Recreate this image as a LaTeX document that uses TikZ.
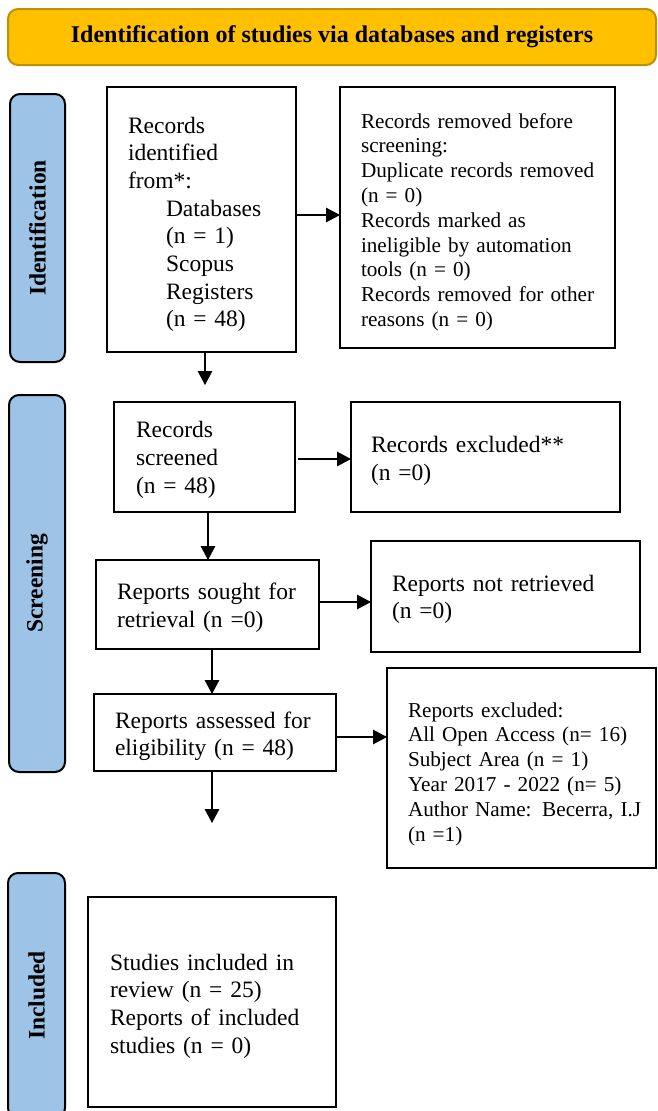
\documentclass[tikz,border=0pt]{standalone}
\usepackage{fontspec}
\setmainfont{Liberation Serif}
\usetikzlibrary{arrows.meta,calc}
\definecolor{bannerfill}{HTML}{FFC000}
\definecolor{bannerline}{HTML}{BF9000}
\definecolor{sidefill}{HTML}{9DC3E6}
\newcommand\mytopstrut[1]{\rule{0pt}{#1}}
\tikzset{
  pbox/.style={draw=black, line width=2pt, align=left, inner ysep=2pt, outer sep=0pt,
    font=\fontsize{23.5}{27.7}\selectfont},
  smalltext/.style={font=\fontsize{21.2}{24.8}\selectfont},
  sidebar/.style={draw=black, fill=sidefill, line width=2pt, rounded corners=10pt,
    rotate=90, inner sep=0pt, font=\bfseries\fontsize{23.5}{28}\selectfont},
  arr/.style={line width=1.3pt, -{Triangle[length=14pt,width=14.5pt]}},
}
\begin{document}
\begin{tikzpicture}[x=1pt,y=-1pt]
\useasboundingbox (0,0) rectangle (657,1111);
\clip (0,0) rectangle (657,1111);
\fill[white] (0,0) rectangle (657,1111);

% banner
\node[draw=bannerline, fill=bannerfill, line width=2pt, rounded corners=10pt,
  minimum width=648pt, minimum height=56pt, inner sep=0pt,
  font=\bfseries\fontsize{24}{28}\selectfont] (banner) at (332,37)
  {Identification of studies via databases and registers};

% sidebars
\node[sidebar, minimum width=268pt, minimum height=55pt] (sideid) at (37.5,228) {Identification};
\node[sidebar, minimum width=377pt, minimum height=56pt] (sidescr) at (37,583.5) {Screening};
\node[sidebar, minimum width=245pt, minimum height=57pt] (sideinc) at (36.5,995.5) {Included};

% boxes
\node[pbox, minimum width=189pt, minimum height=265pt, text width=147pt, inner xsep=21pt] (b1) at (201.5,219.5)
  {\mytopstrut{26pt}Records\\identified\\from*:\\
   \hspace*{38pt}Databases\\\hspace*{38pt}(n = 1)\\\hspace*{38pt}Scopus\\
   \hspace*{38pt}Registers\\\hspace*{38pt}(n = 48)};
\node[pbox, smalltext, minimum width=275pt, minimum height=261pt, text width=233pt, inner xsep=21pt] (b2) at (477.5,217.5)
  {\mytopstrut{24pt}Records removed before\\screening:\\\mbox{Duplicate records removed}\\(n = 0)\\Records marked as\\
   ineligible by automation\\tools (n = 0)\\\mbox{Records removed for other}\\reasons (n = 0)};
\node[pbox, minimum width=181pt, minimum height=110pt, text width=137pt, inner xsep=22pt] (b3) at (204.5,457)
  {\mytopstrut{22pt}Records\\screened\\(n = 48)};
\node[pbox, minimum width=269pt, minimum height=110pt, text width=229pt, inner xsep=20pt] (b4) at (485.5,457)
  {\mytopstrut{24pt}Records excluded**\\(n =0)};
\node[pbox, minimum width=223pt, minimum height=89pt, text width=181pt, inner xsep=21pt] (b5) at (207.5,604.5)
  {\mytopstrut{23.5pt}\mbox{Reports sought for}\\retrieval (n =0)};
\node[pbox, minimum width=269pt, minimum height=111pt, text width=227pt, inner xsep=21pt] (b6) at (505.5,596.5)
  {\mytopstrut{22pt}Reports not retrieved\\(n =0)};
\node[pbox, minimum width=242pt, minimum height=77pt, text width=200pt, inner xsep=21pt] (b7) at (215,732.5)
  {\mytopstrut{24pt}\mbox{Reports assessed for}\\eligibility (n = 48)};
\node[pbox, smalltext, minimum width=269pt, minimum height=200pt, text width=227pt, inner xsep=21pt] (b8) at (521.5,768)
  {\mytopstrut{26.5pt}Reports excluded:\\\mbox{All Open Access (n= 16)}\\Subject Area (n = 1)\\\mbox{Year 2017 - 2022 (n= 5)}\\
   \mbox{Author Name: Becerra, I.J}\\(n =1)};
\node[pbox, minimum width=248pt, minimum height=210pt, text width=204pt, inner xsep=22pt] (b9) at (212,1002)
  {\mytopstrut{24.5pt}Studies included in\\review (n = 25)\\Reports of included\\studies (n = 0)};

% free ends
\coordinate (e1) at (205,385);
\coordinate (e2) at (212,823);

% connectors
\draw[arr] (b1.east |- 0,215) -- (b2.west |- 0,215);
\draw[arr] (205,0 |- b1.south) -- (e1);
\draw[arr, shorten <=3pt] (b3.east |- 0,459) -- (b4.west |- 0,459);
\draw[arr] (208,0 |- b3.south) -- (208,0 |- b5.north);
\draw[arr] (b5.east |- 0,602) -- (b6.west |- 0,602);
\draw[arr] (212,0 |- b5.south) -- (212,0 |- b7.north);
\draw[arr] (b7.east |- 0,737) -- (b8.west |- 0,737);
\draw[arr] (212,0 |- b7.south) -- (e2);
\end{tikzpicture}
\end{document}
